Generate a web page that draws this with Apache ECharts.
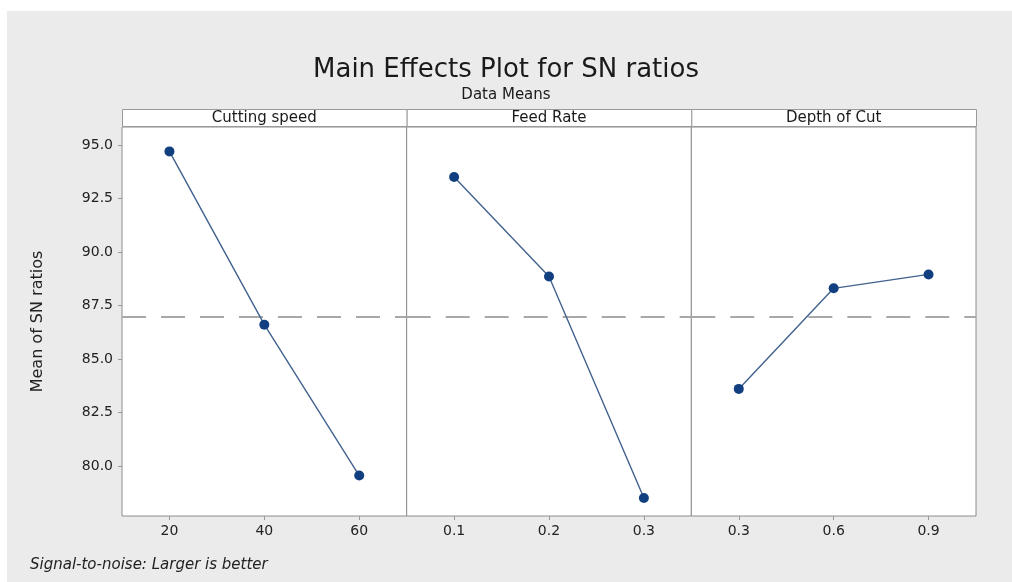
<!DOCTYPE html>
<html>
<head>
<meta charset="utf-8">
<script src="https://cdn.jsdelivr.net/npm/echarts@6/dist/echarts.min.js"></script>
<style>
html,body{margin:0;padding:0;background:#fff;}
#c{width:1012px;height:582px;}
</style>
</head>
<body>
<div id="c"></div>
<script>
// ---- data ----
const panelTitles = ['Cutting speed', 'Feed Rate', 'Depth of Cut'];
const cuttingSpeedLevels = ['20', '40', '60'];
const feedRateLevels = ['0.1', '0.2', '0.3'];
const depthOfCutLevels = ['0.3', '0.6', '0.9'];
const cuttingSpeedSN = [94.7, 86.6, 79.55];
const feedRateSN = [93.5, 88.85, 78.5];
const depthOfCutSN = [83.6, 88.3, 88.95];
const yTickValues = [80.0, 82.5, 85.0, 87.5, 90.0, 92.5, 95.0];

const levels = [cuttingSpeedLevels, feedRateLevels, depthOfCutLevels];
const values = [cuttingSpeedSN, feedRateSN, depthOfCutSN];
const all = values.flat();
const overallMean = all.reduce((a, b) => a + b, 0) / all.length;

const FONT = '"DejaVu Sans", "Noto Sans", sans-serif';
const plotLeft = 122, plotRight = 976, plotTop = 127, plotBottom = 516;
const panelW = (plotRight - plotLeft) / 3;
const yMin = 77.66, yMax = 95.84;

const grids = [], xAxes = [], yAxes = [], series = [], graphics = [];

graphics.push({
  type: 'rect', left: 7, top: 11, z: -10,
  shape: { width: 1005, height: 571 },
  style: { fill: '#ebebeb' }
});

for (let i = 0; i < 3; i++) {
  const l = plotLeft + i * panelW;
  grids.push({
    left: l, top: plotTop, width: panelW, height: plotBottom - plotTop,
    show: true, backgroundColor: '#ffffff', borderColor: '#8c8c8c', borderWidth: 1
  });
  xAxes.push({
    type: 'category', gridIndex: i, data: levels[i], boundaryGap: true,
    axisLine: { show: false },
    axisTick: { show: true, alignWithLabel: true, length: 4, inside: false, lineStyle: { color: '#9a9a9a' } },
    axisLabel: { color: '#222', fontSize: 14, fontFamily: FONT, margin: 8 },
    splitLine: { show: false }
  });
  yAxes.push({
    type: 'value', gridIndex: i, min: yMin, max: yMax,
    axisLine: { show: false },
    axisTick: { show: i === 0, length: 4, customValues: yTickValues, lineStyle: { color: '#9a9a9a' } },
    axisLabel: {
      show: i === 0, color: '#222', fontSize: 14, fontFamily: FONT, margin: 9,
      customValues: yTickValues,
      formatter: v => v.toFixed(1)
    },
    splitLine: { show: false },
    name: i === 0 ? 'Mean of SN ratios' : '',
    nameLocation: 'middle', nameRotate: 90, nameGap: 76,
    nameTextStyle: { color: '#222', fontSize: 16, fontFamily: FONT }
  });
  series.push({
    type: 'line', xAxisIndex: i, yAxisIndex: i, data: values[i],
    symbol: 'circle', symbolSize: 10,
    itemStyle: { color: '#123f80' },
    lineStyle: { color: '#42628e', width: 1.4 },
    z: 5,
    markLine: {
      silent: true, symbol: 'none', label: { show: false },
      lineStyle: { color: '#a8a8a8', type: [24, 15], width: 2 },
      data: [{ yAxis: overallMean }],
      z: 2
    }
  });
  // strip header
  graphics.push({
    type: 'rect', left: l, top: 109, z: 10,
    shape: { width: panelW, height: 17 },
    style: { fill: '#ffffff', stroke: '#9a9a9a', lineWidth: 1 }
  });
  graphics.push({
    type: 'text', z: 11,
    x: l + panelW / 2, y: 118,
    style: {
      text: panelTitles[i], fill: '#1a1a1a', font: '15px ' + FONT,
      align: 'center', verticalAlign: 'middle'
    }
  });
}

graphics.push({
  type: 'text', left: 30, top: 558, z: 11,
  style: { text: 'Signal-to-noise: Larger is better', fill: '#222', font: 'italic 15px ' + FONT }
});

const chart = echarts.init(document.getElementById('c'), null, { renderer: 'canvas' });
chart.setOption({
  animation: false,
  backgroundColor: '#ffffff',
  title: [{
    text: 'Main Effects Plot for SN ratios',
    left: 'center', top: 52,
    textStyle: { color: '#1a1a1a', fontSize: 26, fontWeight: 'normal', fontFamily: FONT }
  }, {
    text: 'Data Means',
    left: 'center', top: 83,
    textStyle: { color: '#1a1a1a', fontSize: 15, fontWeight: 'normal', fontFamily: FONT }
  }],
  grid: grids,
  xAxis: xAxes,
  yAxis: yAxes,
  series: series,
  graphic: graphics
});
</script>
</body>
</html>
